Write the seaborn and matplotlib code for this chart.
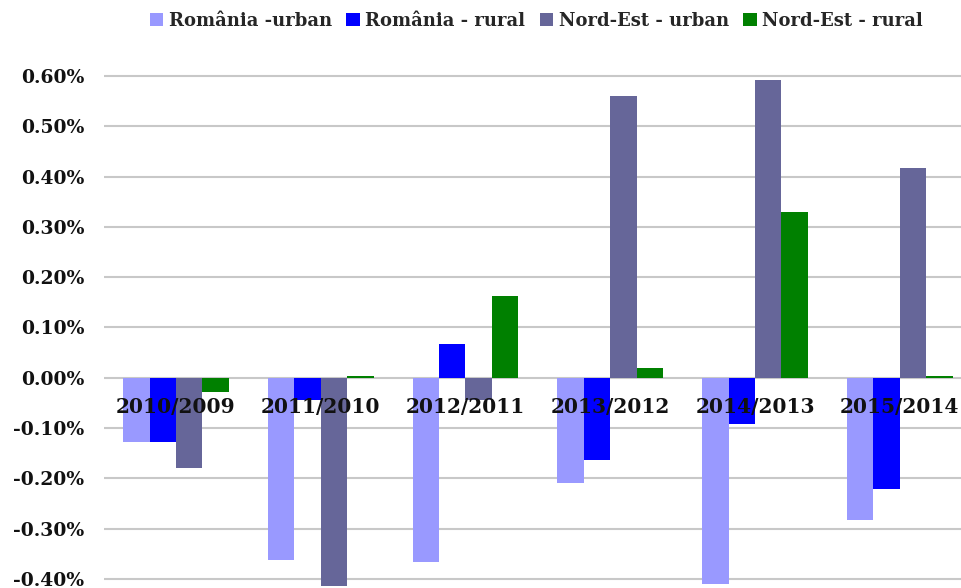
import pandas as pd
import numpy as np
import matplotlib
matplotlib.use("Agg")
import matplotlib.pyplot as plt
import seaborn as sns

# Values in percent
periods = ["2010/2009", "2011/2010", "2012/2011", "2013/2012", "2014/2013", "2015/2014"]
series_names = ["România -urban", "România - rural", "Nord-Est - urban", "Nord-Est - rural"]
romania_urban = [-0.128, -0.362, -0.366, -0.210, -0.410, -0.282]
romania_rural = [-0.128, -0.044, 0.067, -0.164, -0.092, -0.222]
nordest_urban = [-0.180, -0.414, -0.045, 0.560, 0.592, 0.417]
nordest_rural = [-0.028, 0.003, 0.163, 0.019, 0.329, 0.003]
colors = ["#9999FF", "#0000FF", "#666699", "#008000"]

rows = []
for name, vals in zip(series_names, [romania_urban, romania_rural, nordest_urban, nordest_rural]):
    for p, v in zip(periods, vals):
        rows.append({"period": p, "series": name, "value": v})
df = pd.DataFrame(rows)

sns.set_style("white")
plt.rcParams["font.family"] = ["DejaVu Serif"]

fig = plt.figure(figsize=(9.62, 5.88), dpi=100)
ax = fig.add_axes([0.1077, 0.0, 0.8923, 1.0])

sns.barplot(data=df, x="period", y="value", hue="series", hue_order=series_names,
            order=periods, palette=colors, width=0.73, gap=0, saturation=1,
            errorbar=None, linewidth=0, edgecolor="none", ax=ax)

handles, labels = ax.get_legend_handles_labels()
ax.get_legend().remove()

yticks = np.round(np.arange(-0.4, 0.61, 0.1), 2) + 0.0
ax.set_ylim(-0.418, 0.751)
ax.set_xlim(-0.5, 5.43)
ax.set_yticks(yticks)
ax.set_yticklabels([f"{t:.2f}%".replace("-0.00", "0.00") for t in yticks])

# gridlines under the bars, tick labels above them
ax.grid(False)
for t in yticks:
    ax.axhline(t, color="#c8c8c8", linewidth=1.5, zorder=0.5)
ax.set_axisbelow(False)

for s in ["top", "right", "left", "bottom"]:
    ax.spines[s].set_visible(False)
ax.spines["bottom"].set_position(("data", 0))

ax.tick_params(axis="both", length=0)
ax.tick_params(axis="y", pad=14, labelsize=13.5)
ax.tick_params(axis="x", pad=14, labelsize=14.5)
for lbl in ax.get_xticklabels() + ax.get_yticklabels():
    lbl.set_fontweight("bold")
    lbl.set_color("#111111")
ax.set_xlabel("")
ax.set_ylabel("")

fig.legend(handles, labels, loc="center", bbox_to_anchor=(0.5577, 0.964), ncol=4,
           frameon=False, handlelength=0.75, handleheight=0.75, handletextpad=0.3,
           columnspacing=0.8, prop={"family": "DejaVu Serif", "weight": "bold", "size": 13})

fig.savefig("out.png", dpi=100)
